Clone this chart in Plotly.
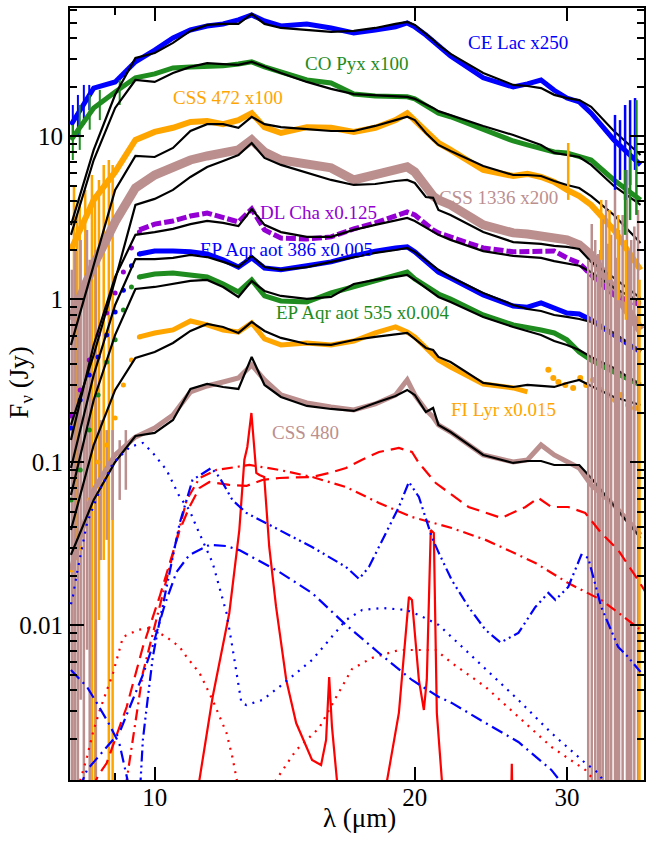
import plotly.graph_objects as go

# ---------------- wavelength grids (micron) ----------------
lam = [8.0, 8.5, 9.0, 9.5, 10.0, 10.5, 11.0, 11.5, 12.0, 12.5, 12.95, 13.4,
       14.0, 15.0, 16.0, 17.0, 18.0, 19.0, 19.6, 20.0, 20.6, 21.0, 21.3, 22.0,
       24.0, 26.0, 27.0, 28.0, 29.0, 30.0, 31.0, 32.0, 34.0, 36.5]
lam_left = [8.0, 8.2, 8.4, 8.6, 8.8, 9.0, 9.2, 9.4, 9.6]
lam_main = [9.6, 10.0, 10.5, 11.0, 11.5, 12.0, 12.5, 12.95, 13.4, 14.0, 15.0,
            16.0, 17.0, 18.0, 19.0, 19.6, 20.0, 20.6, 21.0, 21.3, 22.0, 24.0,
            26.0, 27.0, 28.0, 29.0, 30.0, 31.0, 32.0, 34.0, 36.5]

# ---------------- model fits (black), Jy ----------------
ce_lac_model = [2.86, 8.27, 18.0, 30.3, 32.5, 37.5, 44.4, 48.3, 49.0, 49.0, 56.4, 49.0,
                46.3, 45.0, 43.8, 44.4, 46.3, 49.0, 50.4, 48.3, 42.6, 39.1, 36.4, 32.1,
                24.5, 20.7, 20.4, 19.8, 18.0, 17.2, 16.7, 15.2, 10.8, 7.7]
co_pyx_model = [2.49, 7.17, 14.96, 22.2, 21.6, 24.5, 26.7, 28.2, 27.8, 27.5, 28.7, 26.7,
                24.5, 21.6, 19.6, 18.2, 17.97, 17.7, 17.5, 17.0, 15.8, 14.96, 14.3, 13.5,
                11.6, 10.2, 9.52, 8.87, 7.92, 7.70, 7.48, 6.69, 4.97, 3.80]
css472_model = [0.526, 1.63, 4.70, 7.59, 7.48, 8.50, 10.8, 11.9, 11.9, 11.3, 13.2, 11.9,
                11.4, 11.1, 10.8, 10.8, 11.6, 12.6, 13.2, 12.6, 10.5, 9.52, 8.87, 8.15,
                6.59, 5.80, 5.80, 5.72, 5.33, 5.04, 4.83, 4.31, 3.30, 2.22]
css1336_model = [0.170, 0.456, 1.317, 3.80, 4.14, 4.70, 5.64, 6.50, 7.07, 7.70, 9.12, 7.38,
                 6.69, 5.97, 5.41, 5.04, 5.11, 5.33, 5.41, 5.18, 4.25, 4.20, 3.54, 3.30,
                 2.59, 2.25, 2.22, 2.19, 2.13, 2.10, 2.04, 1.70, 1.355, 1.02]
dlcha_model = [0.1374, 0.526, 1.374, 2.49, 2.59, 2.71, 2.90, 3.03, 2.95, 2.82, 3.59, 2.87,
               2.59, 2.42, 2.42, 2.67, 2.87, 3.07, 3.16, 3.03, 2.75, 2.59, 2.49, 2.32,
               1.98, 1.85, 1.82, 1.80, 1.72, 1.67, 1.61, 1.47, 1.18, 0.965]
ep386_model = [0.0925, 0.344, 0.925, 1.77, 1.77, 1.80, 1.875, 1.82, 1.70, 1.58, 1.85, 1.58,
               1.52, 1.58, 1.70, 1.82, 1.93, 2.01, 2.07, 1.96, 1.75, 1.61, 1.52, 1.374,
               1.096, 0.925, 0.874, 0.850, 0.803, 0.781, 0.759, 0.728, 0.623, 0.476]
ep535_model = [0.0632, 0.2417, 0.606, 1.16, 1.193, 1.245, 1.299, 1.317, 1.193, 1.036, 1.299, 1.127,
               1.051, 1.007, 1.036, 1.245, 1.317, 1.374, 1.413, 1.317, 1.176, 1.096, 1.036, 0.965,
               0.781, 0.678, 0.641, 0.606, 0.556, 0.526, 0.490, 0.444, 0.380, 0.299]
filyr_model = [0.0385, 0.128, 0.2785, 0.4377, 0.476, 0.541, 0.641, 0.7075, 0.678, 0.623, 0.728, 0.641,
               0.581, 0.533, 0.526, 0.564, 0.589, 0.614, 0.623, 0.573, 0.504, 0.490, 0.444, 0.4135,
               0.3075, 0.2905, 0.299, 0.2946, 0.2905, 0.3075, 0.3207, 0.2946, 0.2522, 0.2253]
css480_model = [0.0271, 0.0589, 0.1007, 0.1454, 0.1517, 0.1823, 0.2825, 0.303, 0.2905, 0.2825, 0.444, 0.299,
                0.2522, 0.2222, 0.2129, 0.207, 0.2317, 0.2558, 0.2785, 0.2595, 0.204, 0.216, 0.170, 0.1538,
                0.1112, 0.0993, 0.1021, 0.1021, 0.0965, 0.0965, 0.0965, 0.0803, 0.0541, 0.0344]

# ---------------- observed spectra (scaled), Jy ----------------
ce_lac_data = [11.77, 19.8, 21.6, 28.7, 33.9, 40.2, 45.0, 47.6, 49.0, 51.9, 55.7, 51.1,
               47.6, 49.0, 46.3, 43.2, 45.0, 47.0, 49.7, 47.0, 41.9, 38.5, 35.4, 31.2,
               22.9, 20.1, 21.0, 22.2, 19.2, 17.2, 16.3, 13.9, 9.52, 6.69]
co_pyx_data = [9.52, 14.96, 18.75, 22.9, 24.2, 26.3, 26.7, 26.7, 27.1, 27.8, 28.7, 26.7,
               24.9, 22.2, 21.3, 18.2, 17.7, 17.5, 17.5, 17.0, 15.6, 14.5, 13.9, 13.2,
               10.96, 9.38, 8.87, 8.38, 8.03, 7.92, 7.59, 7.17, 5.41, 4.08]
css472_data = [2.01, 4.08, 6.06, 9.52, 10.66, 11.3, 12.27, 12.45, 11.9, 12.6, 13.9, 11.4,
               10.5, 11.4, 11.3, 10.66, 11.3, 12.6, 13.9, 12.6, 10.66, 9.79, 9.12, 8.27,
               6.23, 5.72, 5.89, 5.64, 5.26, 4.70, 4.31, 3.80, 2.67, 1.52]
css1336_data = [0.748, 1.63, 2.99, 4.83, 5.80, 6.50, 7.17, 7.59, 7.92, 8.27, 9.52, 8.03,
                7.17, 6.78, 6.41, 5.41, 5.80, 6.23, 6.50, 6.06, 4.83, 4.31, 4.08, 3.80,
                2.87, 2.56, 2.52, 2.45, 2.38, 2.32, 2.16, 1.875, 1.14, 0.65]
css480_data = [0.0219, 0.0678, 0.1112, 0.1433, 0.1627, 0.1956, 0.2707, 0.2946, 0.3118, 0.330, 0.3964, 0.3207,
               0.2595, 0.2317, 0.219, 0.210, 0.2285, 0.2595, 0.3207, 0.2595, 0.210, 0.190, 0.170, 0.1538,
               0.1112, 0.1007, 0.1036, 0.128, 0.1112, 0.1007, 0.0925, 0.0728, 0.0549, 0.0359]

dlcha_left = [0.193, 0.2785, 0.4253, 0.606, 0.8264, 1.096, 1.475, 2.07, 2.59]
dlcha_main = [2.67, 2.90, 3.03, 3.25, 3.39, 3.16, 2.99, 3.59, 2.67, 2.38, 2.35, 2.42, 2.71, 2.95,
              3.25, 3.44, 3.30, 2.87, 2.67, 2.56, 2.42, 2.07, 1.96, 1.96, 1.98, 1.98, 1.80,
              1.67, 1.413, 1.066, 0.925]
ep386_left = [0.1627, 0.2417, 0.344, 0.444, 0.606, 0.838, 1.14, 1.61, 1.90]
ep386_main = [1.90, 1.98, 1.98, 1.96, 1.90, 1.75, 1.58, 1.80, 1.56, 1.52, 1.61, 1.70, 1.85, 1.98,
              2.07, 2.10, 1.96, 1.70, 1.56, 1.47, 1.355, 1.066, 0.912, 0.897, 0.952, 0.887,
              0.826, 0.815, 0.748, 0.606, 0.476]
ep535_left = [0.0589, 0.090, 0.158, 0.2595, 0.4135, 0.565, 0.862, 1.193, 1.374]
ep535_main = [1.374, 1.433, 1.454, 1.413, 1.374, 1.245, 1.112, 1.317, 1.051, 0.979, 0.965, 1.096,
              1.193, 1.299, 1.413, 1.475, 1.336, 1.21, 1.127, 1.081, 1.007, 0.803, 0.698, 0.678,
              0.650, 0.623, 0.565, 0.476, 0.4253, 0.359, 0.299]
ep535_edge_lam = [36.3, 36.3]
ep535_edge = [0.30, 0.88]
filyr_left = [0.0219, 0.0299, 0.0589, 0.1007, 0.128, 0.1875, 0.299, 0.4253, 0.589]
filyr_main = [0.589, 0.623, 0.650, 0.738, 0.698, 0.650, 0.631, 0.718, 0.573, 0.526, 0.541, 0.526,
              0.556, 0.623, 0.678, 0.631, 0.589, 0.511, 0.456, 0.4253, 0.3855, 0.303, 0.2865, 0.2707]
filyr_scat_lam = [28.55, 28.93, 29.32, 29.87, 30.5, 31.08, 31.58, 32.17, 32.87, 33.48, 34.1, 34.66, 35.31, 35.97]
filyr_scat = [0.37, 0.33, 0.312, 0.299, 0.2865, 0.33, 0.299, 0.3207, 0.2785, 0.2595, 0.242, 0.2595, 0.2253, 0.2158]

# ---------------- noisy spikes (wavelength, top, bottom) ----------------
orange_spk_lam = [8.065, 8.13, 8.19, 8.31, 8.46, 8.53, 8.62, 8.73, 8.85, 8.94, 30.1, 32.87, 33.6, 34.39, 35.1, 36.4]
orange_spk_top = [5.04, 3.30, 4.08, 4.70, 5.80, 4.08, 5.41, 6.69, 7.17, 6.69, 9.12, 4.08, 3.54, 3.30, 2.32, 1.32]
orange_spk_bot = [0.0009, 0.0252, 0.090, 0.0444, 0.0009, 0.0009, 0.0108, 0.0252, 0.0009, 0.0009, 4.08, 1.75, 1.32, 0.99, 0.75, 0.0009]
brown_spk_lam = [8.02, 8.09, 8.15, 8.21, 8.28, 8.35, 8.41, 8.55, 8.66, 8.80, 8.94, 9.11, 9.26,
                 31.75, 32.05, 32.35, 32.6, 32.78, 33.0, 33.3, 33.5, 33.75, 34.1, 34.3, 34.47,
                 34.8, 35.2, 35.4, 35.6, 35.9, 36.26]
brown_spk_top = [1.52, 2.01, 0.99, 2.32, 1.32, 2.67, 1.75, 2.01, 0.182, 0.158, 0.158, 0.137, 0.158,
                 1.75, 2.9, 2.32, 1.9, 2.01, 3.1, 4.08, 2.2, 2.49, 4.70, 1.8, 2.67,
                 3.3, 6.23, 2.0, 2.32, 2.8, 3.54]
brown_spk_bot = [0.0009, 0.0009, 0.0009, 0.0035, 0.0009, 0.0071, 0.0009, 0.0009, 0.0252, 0.0335, 0.0444, 0.0589, 0.068,
                 0.0009, 0.0009, 0.0009, 0.0009, 0.0009, 0.0009, 0.0009, 0.0009, 0.0009, 0.0009, 0.0009, 0.0009,
                 0.0009, 0.0009, 0.0009, 0.0009, 0.0009, 0.0009]
blue_spk_lam = [8.04, 8.15, 8.28, 8.40, 34.1, 34.56, 35.03, 35.5, 35.97]
blue_spk_top = [15.6, 17.97, 20.7, 20.7, 13.55, 12.6, 15.6, 16.7, 17.2]
blue_spk_bot = [9.52, 10.2, 11.77, 14.5, 4.70, 5.41, 4.08, 5.04, 6.23]
green_spk_lam = [8.04, 8.19, 8.41, 8.64, 9.11, 35.03, 35.5, 36.1]
green_spk_top = [11.77, 15.6, 17.97, 19.3, 22.2, 6.23, 8.27, 16.7]
green_spk_bot = [7.17, 8.27, 11.0, 12.6, 15.6, 2.49, 3.07, 3.30]

# ---------------- model components ----------------
red_solid_lam = [11.15, 11.27, 11.67, 12.20, 12.53, 12.70, 12.80, 12.94, 13.11, 13.22, 13.39, 13.57,
                 13.82, 14.20, 14.58, 15.21, 15.58, 15.79, 15.92, 16.04, 16.35, None,
                 18.37, 19.17, 19.69, 19.85, 20.22, 20.49, 20.65, 20.87, 21.04, 21.21, 21.6, None,
                 25.85, 25.9, 25.95]
red_solid = [0.0008, 0.00113, 0.00364, 0.01193, 0.0385, 0.104, 0.1245, 0.2012, 0.0862, 0.0838, 0.0815, 0.0303,
             0.01299, 0.00463, 0.00252, 0.001495, 0.001393, 0.001984, 0.00483, 0.002384, 0.0008, None,
             0.0008, 0.002905, 0.01496, 0.01434, 0.00463, 0.00303, 0.00463, 0.0385, 0.0369, 0.002905, 0.0008, None,
             0.0008, 0.00142, 0.0008]
red_dash_lam = [8.45, 8.64, 8.80, 9.28, 9.69, 10.13, 10.69, 10.97, 11.27, 11.57, 12.20, 12.77, 13.32,
                13.94, 15.21, 15.92, 16.65, 17.38, 18.18, 19.17, 19.85, 20.22, 21.15, 23.08, 25.19,
                26.86, 27.80, 28.78, 30.1, 31.5, 32.87, 34.39, 36.26, 37.0]
red_dash = [0.0010, 0.001245, 0.001433, 0.00316, 0.00738, 0.01496, 0.0385, 0.0533, 0.0698, 0.0759, 0.0728,
            0.0718, 0.0781, 0.0803, 0.0815, 0.0862, 0.0925, 0.104, 0.116, 0.1227, 0.116, 0.0993, 0.0748,
            0.0533, 0.0457, 0.0533, 0.0606, 0.0533, 0.0533, 0.049, 0.0369, 0.029, 0.019, 0.016]
red_dashdot_lam = [9.25, 9.48, 9.69, 10.13, 10.49, 10.69, 10.89, 11.27, 11.79, 12.87, 13.94, 15.21,
                   16.65, 18.18, 19.85, 22.07, 24.15, 25.19, 27.58, 30.1, 32.87, 34.66, 36.5]
red_dashdot = [0.001, 0.00245, 0.00511, 0.01299, 0.0271, 0.0414, 0.0589, 0.0803, 0.090, 0.0965, 0.090, 0.0815,
               0.0707, 0.0564, 0.0463, 0.0396, 0.0335, 0.0303, 0.0242, 0.0182, 0.01434, 0.0116, 0.00939]
red_dot1_lam = [8.15, 8.35, 8.48, 8.64, 8.95, 9.19, 9.56, 9.87, 10.32, 10.69, 10.89, 11.27, 11.67,
                12.11, 12.30, 12.43, 12.55]
red_dot1 = [0.001, 0.00156, 0.00219, 0.00303, 0.00511, 0.0085, 0.00939, 0.00966, 0.0085, 0.00738, 0.0064,
            0.00511, 0.00349, 0.00219, 0.00156, 0.001177, 0.0009]
red_dot2_lam = [13.64, 13.82, 14.58, 15.50, 16.22, 16.92, 17.84, 19.17, 20.22, 21.15, 22.07, 24.15,
                26.36, 28.78, 31.5, 32.61]
red_dot2 = [0.001, 0.00113, 0.00172, 0.00235, 0.00364, 0.00541, 0.00632, 0.00707, 0.00707, 0.00707,
            0.00589, 0.0042, 0.00275, 0.0018, 0.0013, 0.00105]
blue_dot_lam = [8.0, 8.04, 8.13, 8.35, 8.64, 8.95, 9.36, 9.69, 9.95, 10.32, 10.69, 10.97, 11.18, 11.48,
                11.67, 11.88, 12.11, 12.30, 12.47, 12.60, 12.77, 13.32, 13.94, 14.58, 15.21, 15.92,
                16.65, 17.38, 18.32, 19.53, 20.22, 21.32, 22.07, 24.15, 26.36, 28.78, 31.5, 32.61, 33.5]
blue_dot = [0.0135, 0.01496, 0.021, 0.0425, 0.0678, 0.0993, 0.1245, 0.1317, 0.1144, 0.090, 0.0614, 0.0511,
            0.0402, 0.029, 0.0242, 0.0172, 0.01193, 0.00738, 0.00463, 0.00335, 0.00325, 0.00349, 0.0042,
            0.00511, 0.00614, 0.00815, 0.0108, 0.01245, 0.0128, 0.01245, 0.0116, 0.01007, 0.0085, 0.00541,
            0.00349, 0.00219, 0.001433, 0.001245, 0.001]
blue_ddd_lam = [9.62, 9.69, 9.79, 9.95, 10.13, 10.41, 10.69, 11.06, 11.63, 11.88, 12.30, 12.77, 13.94,
                15.21, 16.65, 17.24, 17.70, 18.51, 19.17, 19.69, 20.22, 20.93, 21.32, 22.07, 23.08,
                24.15, 25.13, 26.36, 27.58, 28.55, 29.09, 30.1, 31.17, 31.75, 32.87, 34.39, 35.31, 36.5]
blue_ddd = [0.001, 0.001984, 0.00316, 0.00641, 0.01058, 0.021, 0.0425, 0.0781, 0.0925, 0.0815, 0.0589,
            0.049, 0.0385, 0.0303, 0.02285, 0.0193, 0.02285, 0.0369, 0.0533, 0.0759, 0.0614, 0.0349,
            0.0279, 0.019, 0.01299, 0.00939, 0.00786, 0.009, 0.01299, 0.01583, 0.01434, 0.0172, 0.0271,
            0.02595, 0.01299, 0.00738, 0.00641, 0.00518]
blue_dd_lam = [8.2, 8.26, 8.35, 8.71, 9.11, 9.43, 9.69, 9.95, 10.27, 10.60, 10.97, 11.57, 12.11, 12.53,
               13.94, 15.21, 16.65, 18.18, 19.85, 21.32, 22.07, 24.15, 26.36, 28.78, 29.71]
blue_dd = [0.001, 0.00113, 0.0013, 0.001686, 0.00222, 0.00349, 0.00497, 0.00754, 0.01336, 0.0213, 0.0271,
           0.0312, 0.0307, 0.029, 0.0213, 0.01583, 0.01007, 0.00678, 0.00463, 0.00364, 0.00335, 0.00252,
           0.00193, 0.0013, 0.00105]
blue_dd2_lam = [8.0, 8.35, 8.57, 8.87, 9.11, 9.28, 9.33]
blue_dd2 = [0.00533, 0.0042, 0.00335, 0.00245, 0.00185, 0.00121, 0.00105]

# ---------------- labels ----------------
labels = ["CE Lac x250", "CO Pyx x100", "CSS 472 x100", "CSS 1336 x200", "DL Cha x0.125",
          "EP Aqr aot 386 x0.005", "EP Aqr aot 535 x0.004", "FI Lyr x0.015", "CSS 480"]

BLUE = "#0000ff"
GREEN = "#1e8c1e"
ORANGE = "#ffa500"
BROWN = "#bc8f8f"
VIOLET = "#9400d3"
RED = "#ff0000"
BLACK = "#000000"

fig = go.Figure()


def add_line(x, y, color, width, dash="solid"):
    fig.add_trace(go.Scatter(x=x, y=y, mode="lines", line=dict(color=color, width=width, dash=dash),
                             hoverinfo="skip", connectgaps=False))


def add_dots(x, y, color, size=5):
    fig.add_trace(go.Scatter(x=x, y=y, mode="markers", marker=dict(color=color, size=size),
                             hoverinfo="skip"))


def add_spikes(lams, tops, bots, color, width):
    xs, ys = [], []
    for l, t, b in zip(lams, tops, bots):
        xs += [l, l, None]
        ys += [t, b, None]
    add_line(xs, ys, color, width)


# observed spectra
add_spikes(blue_spk_lam[:4], blue_spk_top[:4], blue_spk_bot[:4], BLUE, 2)
add_line(lam, ce_lac_data, BLUE, 5)
add_spikes(green_spk_lam[:5], green_spk_top[:5], green_spk_bot[:5], GREEN, 2)
add_line(lam, co_pyx_data, GREEN, 5)
add_spikes(orange_spk_lam[:10], orange_spk_top[:10], orange_spk_bot[:10], ORANGE, 2.5)
add_line(lam, css472_data, ORANGE, 6)
add_spikes(brown_spk_lam[:13], brown_spk_top[:13], brown_spk_bot[:13], BROWN, 2.5)
add_line(lam, css1336_data, BROWN, 9)
add_dots(lam_left, dlcha_left, VIOLET)
add_line(lam_main, dlcha_main, VIOLET, 5, "10px,3px")
add_dots(lam_left, ep386_left, BLUE)
add_line(lam_main, ep386_main, BLUE, 5)
add_dots(lam_left, ep535_left, GREEN)
add_line(lam_main, ep535_main, GREEN, 5)
add_line(ep535_edge_lam, ep535_edge, GREEN, 2)
add_dots(lam_left, filyr_left, ORANGE)
add_line(lam_main[:len(filyr_main)], filyr_main, ORANGE, 5)
add_dots(filyr_scat_lam, filyr_scat, ORANGE, 6)
add_line(lam, css480_data, BROWN, 5)

# models
for m in [ce_lac_model, co_pyx_model, css472_model, css1336_model, dlcha_model,
          ep386_model, ep535_model, filyr_model, css480_model]:
    add_line(lam, m, BLACK, 2.2)

# right-hand noisy ends
add_spikes(brown_spk_lam[13:], brown_spk_top[13:], brown_spk_bot[13:], BROWN, 2.5)
add_spikes(orange_spk_lam[10:], orange_spk_top[10:], orange_spk_bot[10:], ORANGE, 2.5)
add_spikes(blue_spk_lam[4:], blue_spk_top[4:], blue_spk_bot[4:], BLUE, 2.5)
add_spikes(green_spk_lam[5:], green_spk_top[5:], green_spk_bot[5:], GREEN, 2.5)

# components
add_line(red_solid_lam, red_solid, RED, 2.2)
add_line(red_dash_lam, red_dash, RED, 2.2, "13px,7px")
add_line(red_dashdot_lam, red_dashdot, RED, 2.2, "11px,5px,2px,5px")
add_line(red_dot1_lam, red_dot1, RED, 2.2, "2px,6px")
add_line(red_dot2_lam, red_dot2, RED, 2.2, "2px,6px")
add_line(blue_dot_lam, blue_dot, BLUE, 2.2, "2px,6px")
add_line(blue_ddd_lam, blue_ddd, BLUE, 2.2, "11px,4px,2px,4px,2px,4px")
add_line(blue_dd_lam, blue_dd, BLUE, 2.2, "12px,5px,2px,5px")
add_line(blue_dd2_lam, blue_dd2, BLUE, 2.2, "12px,5px,2px,5px")

# label annotations (log10 positions for log axes)
label_pos = [(1.421, 1.574), (1.234, 1.445), (1.085, 1.242), (1.398, 0.623), (1.190, 0.531),
             (1.152, 0.304), (1.241, -0.083), (1.404, -0.678), (1.175, -0.819)]
label_col = [BLUE, GREEN, ORANGE, BROWN, VIOLET, BLUE, GREEN, ORANGE, BROWN]
annotations = []
for t, (ax, ay), c in zip(labels, label_pos, label_col):
    annotations.append(dict(x=ax, y=ay, xref="x", yref="y", text=t, showarrow=False,
                            font=dict(family="Liberation Serif", size=19, color=c),
                            xanchor="center", yanchor="middle"))
annotations.append(dict(x=0.5035, y=-0.049, xref="paper", yref="paper", text="λ (μm)",
                        showarrow=False, font=dict(family="Liberation Serif", size=27, color="black"),
                        xanchor="center", yanchor="middle"))
annotations.append(dict(x=-0.085, y=0.515, xref="paper", yref="paper", text="F<sub>ν</sub> (Jy)",
                        showarrow=False, textangle=-90,
                        font=dict(family="Liberation Serif", size=27, color="black"),
                        xanchor="center", yanchor="middle"))

y_minor = []
for dec in [0.001, 0.01, 0.1, 1, 10]:
    for k in range(2, 10):
        y_minor.append(round(k * dec, 6))

fig.update_layout(
    width=647, height=842,
    margin=dict(l=70, r=1, t=8, b=62),
    paper_bgcolor="white", plot_bgcolor="white",
    showlegend=False,
    annotations=annotations,
    font=dict(family="Liberation Serif", color="black"),
    xaxis=dict(type="log", range=[0.902, 1.5663], showgrid=False, zeroline=False,
               showline=True, linewidth=2, linecolor="black", mirror="ticks",
               ticks="inside", ticklen=13, tickwidth=2, tickcolor="black",
               tickvals=[10, 20, 30], ticktext=["10", "20", "30"], ticklabelstandoff=-6,
               tickfont=dict(family="Liberation Serif", size=25, color="black"),
               minor=dict(tickvals=[9], ticks="inside", ticklen=7, tickwidth=2, tickcolor="black",
                          showgrid=False)),
    yaxis=dict(type="log", range=[-2.948, 1.788], showgrid=False, zeroline=False,
               showline=True, linewidth=2, linecolor="black", mirror="ticks",
               ticks="inside", ticklen=14, tickwidth=2, tickcolor="black",
               tickvals=[0.01, 0.1, 1, 10], ticktext=["0.01", "0.1", "1", "10"],
               tickfont=dict(family="Liberation Serif", size=25, color="black"),
               minor=dict(tickvals=y_minor, ticks="inside", ticklen=7, tickwidth=2, tickcolor="black",
                          showgrid=False)),
)

fig.write_html("out.html", config={"displayModeBar": False},
               post_script="document.body.style.margin='0px';")
